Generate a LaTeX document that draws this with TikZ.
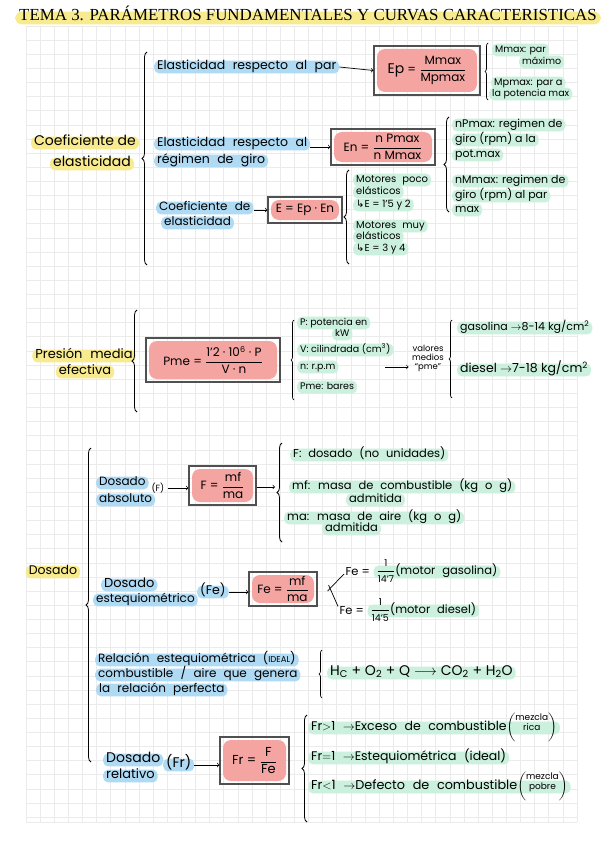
\documentclass[tikz,border=0pt]{standalone}
\usepackage{amsmath}
\usepackage{fontspec}
\setmainfont{Poppins}
\newfontfamily\titlefont{Liberation Serif}
\newfontfamily\symfont{DejaVu Sans}
\usetikzlibrary{decorations.pathreplacing,positioning}

\definecolor{yellowhl}{HTML}{F8EA8E}
\definecolor{bluehl}{HTML}{AFDAF4}
\definecolor{greenhl}{HTML}{CBF0DD}
\definecolor{redhl}{HTML}{F4A5A1}
\definecolor{gridgray}{HTML}{EBEBEB}
\definecolor{boxgray}{HTML}{505050}

\newcommand\fs[1]{\fontsize{#1}{#1}\selectfont}
\newcommand\widesp{\spaceskip=0.6em plus 0.1em\relax}

\tikzset{
  hl/.style={rounded corners=5pt, inner xsep=3pt, inner ysep=1.5pt, text height=1.35ex, text depth=0.45ex},
  hlb/.style={hl, fill=bluehl},
  hlg/.style={hl, fill=greenhl},
  hly/.style={hl, fill=yellowhl},
  formbox/.style={draw=boxgray, line width=1.1pt, inner sep=2pt, font=\fs{12},
    path picture={\fill[redhl, rounded corners=8pt]
      ([shift={(3pt,-3pt)}]path picture bounding box.north west) rectangle
      ([shift={(-3pt,3pt)}]path picture bounding box.south east);}},
  lbrace/.style={decorate, decoration={brace, amplitude=5pt}, line width=0.8pt},
  sbrace/.style={decorate, decoration={brace, amplitude=3pt}, line width=0.7pt},
  arr/.style={->, line width=0.7pt},
  gridline/.style={gridgray, line width=0.8pt}
}

\begin{document}
\begin{tikzpicture}[x=1pt,y=-1pt]
  \useasboundingbox (0,0) rectangle (609,848);
  \fill[white] (0,0) rectangle (609,848);

  % 方格纸
  \foreach \i in {0,...,39} \draw[gridline] (26+\i*14.13,26) -- (26+\i*14.13,822);
  \foreach \j in {0,...,56} \draw[gridline] (26,26+\j*14.13) -- (577,26+\j*14.13);
  \draw[gridline] (26,822) -- (577,822);

  \node[hly, rounded corners=7pt, inner xsep=4pt] (title) at (308,18)
    {\titlefont\fs{16.9}TEMA 3. PARÁMETROS FUNDAMENTALES Y CURVAS CARACTERISTICAS};

  % Coeficiente de elasticidad
  \node[hly, font=\fs{14}] (coef-a) at (85,143) {Coeficiente de};
  \node[hly, font=\fs{14}] (coef-b) at (92,164) {elasticidad};
  \draw[lbrace] (147,265) -- (147,52);

  \node[hlb, font=\fs{12.5}\widesp, anchor=west] (ep-lbl) at (154,67) {Elasticidad respecto al par};
  \node[formbox, minimum width=106pt, minimum height=49pt] (ep-box) at (427,70.5)
    {{\fs{14}Ep} = $\dfrac{\text{Mmax}}{\text{Mpmax}}$};
  \draw[arr] (ep-lbl.east) -- (ep-box.west);
  \draw[sbrace] (488,100) -- (488,43);
  \node[hlg, font=\fs{9.5}, anchor=west] (mmax-a) at (492,50) {Mmax: par};
  \node[hlg, font=\fs{9.5}, anchor=west] (mmax-b) at (519,62) {máximo};
  \node[hlg, font=\fs{9.8}, anchor=west] (mpmax-a) at (491,83) {Mpmax: par a};
  \node[hlg, font=\fs{9.5}, anchor=west] (mpmax-b) at (489,94) {la potencia max};

  \node[hlb, font=\fs{12.5}\widesp, anchor=west] (en-lbl-a) at (154,144) {Elasticidad respecto al};
  \node[hlb, font=\fs{12.5}\widesp, anchor=west] (en-lbl-b) at (154,161) {régimen de giro};
  \node[formbox, minimum width=104pt, minimum height=36pt] (en-box) at (383,147)
    {En = $\dfrac{\text{n Pmax}}{\text{n Mmax}}$};
  \draw[arr] (en-lbl-a.east |- en-box.west) -- (en-box.west);
  \draw[lbrace] (449,212) -- (449,117);
  \node[hlg, font=\fs{11}, anchor=west] (npmax-a) at (452,125) {nPmax: regimen de};
  \node[hlg, font=\fs{11}, anchor=west] (npmax-b) at (452,140) {giro (rpm) a la};
  \node[hlg, font=\fs{11}, anchor=west] (npmax-c) at (452,155) {pot.max};
  \node[hlg, font=\fs{11}, anchor=west] (nmmax-a) at (452,181) {nMmax: regimen de};
  \node[hlg, font=\fs{11}, anchor=west] (nmmax-b) at (452,196) {giro (rpm) al par};
  \node[hlg, font=\fs{11}, anchor=west] (nmmax-c) at (452,210) {max};

  \node[hlb, font=\fs{12}\widesp, anchor=west] (e-lbl-a) at (156,208) {Coeficiente de};
  \node[hlb, font=\fs{12}, anchor=west] (e-lbl-b) at (161,223) {elasticidad};
  \node[formbox, minimum width=74pt, minimum height=26pt] (e-box) at (305,210) {E = Ep · En};
  \draw[arr] (e-lbl-a.east |- e-box.west) -- (e-box.west);
  \draw[lbrace] (349,264) -- (349,170);
  \node[hlg, font=\fs{10}\widesp, anchor=west] (mot-a) at (353,180) {Motores poco};
  \node[hlg, font=\fs{10}, anchor=west] (mot-b) at (353,192) {elásticos};
  \node[hlg, font=\fs{10}, anchor=west] (mot-c) at (353,205) {{\symfont ↳}E = 1'5 y 2};
  \node[hlg, font=\fs{10}\widesp, anchor=west] (mot-d) at (353,226) {Motores muy};
  \node[hlg, font=\fs{10}, anchor=west] (mot-e) at (353,237) {elásticos};
  \node[hlg, font=\fs{10}, anchor=west] (mot-f) at (353,249) {{\symfont ↳}E = 3 y 4};

  % Presión media efectiva
  \node[hly, font=\fs{13}\widesp] (pme-a) at (84,356) {Presión media};
  \node[hly, font=\fs{13}] (pme-b) at (85,372) {efectiva};
  \draw[lbrace] (137,412) -- (137,310);
  \node[formbox, minimum width=134pt, minimum height=44pt] (pme-box) at (213,360)
    {Pme = $\dfrac{\text{1'2 · 10\textsuperscript{6} · P}}{\text{V · n}}$};
  \draw[sbrace] (294,400) -- (294,320);
  \node[hlg, font=\fs{9.5}, anchor=west] (var-p-a) at (297,323) {P: potencia en};
  \node[hlg, font=\fs{9.5}, anchor=west] (var-p-b) at (332,334) {kW};
  \node[hlg, font=\fs{9.5}, anchor=west] (var-v) at (297,350) {V: cilindrada (cm\textsuperscript{3})};
  \node[hlg, font=\fs{9.5}, anchor=west] (var-n) at (297,367) {n: r.p.m};
  \node[hlg, font=\fs{9.5}, anchor=west] (var-pme) at (297,387) {Pme: bares};
  \coordinate (pme-arr) at (385,367);
  \node[font=\fontsize{8.5}{9}\selectfont, align=center] (vm) at (428,358) {valores\\medios\\“pme”};
  \draw[arr] (pme-arr) -- (vm.west |- pme-arr);
  \draw[sbrace] (452,398) -- (452,320);
  \node[hlg, font=\fs{11}, anchor=west] (gas) at (457,328) {gasolina $\rightarrow$8-14 kg/cm\textsuperscript{2}};
  \node[hlg, font=\fs{12.5}, anchor=west] (die) at (457,370) {diesel $\rightarrow$7-18 kg/cm\textsuperscript{2}};

  % Dosado
  \node[hly, font=\fs{12.5}] (dos) at (53,572) {Dosado};
  \draw[lbrace] (91,762) -- (91,448);

  \node[hlb, font=\fs{12}, anchor=west] (fa-a) at (96,483) {Dosado};
  \node[hlb, font=\fs{12}, anchor=west] (fa-b) at (96,500) {absoluto};
  \node[font=\fs{9}, anchor=west] (fa-c) at (148,488) {(F)};
  \node[formbox, minimum width=67pt, minimum height=39pt] (f-box) at (222.5,485.5)
    {F = $\dfrac{\text{mf}}{\text{ma}}$};
  \draw[arr] (fa-c.east) -- (fa-c.east -| f-box.west);
  \coordinate (f-arr) at (275,487);
  \draw[arr] (f-box.east |- f-arr) -- (f-arr);
  \draw[lbrace] (282,542) -- (282,443);
  \node[hlg, font=\fs{11.5}\widesp, anchor=west] (fv-a) at (290,455) {F: dosado (no unidades)};
  \node[hlg, font=\fs{11.5}\widesp, anchor=west] (fv-b) at (289,487) {mf: masa de combustible (kg o g)};
  \node[hlg, font=\fs{11.5}, anchor=west] (fv-c) at (346,500) {admitida};
  \node[hlg, font=\fs{11.5}\widesp, anchor=west] (fv-d) at (284,518) {ma: masa de aire (kg o g)};
  \node[hlg, font=\fs{11.5}, anchor=west] (fv-e) at (322,529) {admitida};

  \node[hlb, font=\fs{13}, anchor=west] (fe-a) at (101,585) {Dosado};
  \node[hlb, font=\fs{12}, anchor=west] (fe-b) at (93,600) {estequiométrico};
  \node[hlb, font=\fs{12.5}, anchor=west] (fe-c) at (197,592) {(Fe)};
  \node[formbox, minimum width=68pt, minimum height=34pt] (fe-box) at (283,589)
    {Fe = $\dfrac{\text{mf}}{\text{ma}}$};
  \draw[arr] (fe-c.east) -- (fe-c.east -| fe-box.west);
  \node[font=\fs{11.5}, anchor=west] (feg-lhs) at (342,572) {Fe =};
  \node[hlg, font=\fs{11.5}\widesp, right=0pt of feg-lhs] (feg-rhs)
    {$\dfrac{\text{\fs{9.5}1}}{\text{\fs{9.5}14'7}}$(motor gasolina)};
  \node[font=\fs{11.5}, anchor=west] (fed-lhs) at (336,611) {Fe =};
  \node[hlg, font=\fs{11.5}\widesp, right=0pt of fed-lhs] (fed-rhs)
    {$\dfrac{\text{\fs{9.5}1}}{\text{\fs{9.5}14'5}}$(motor diesel)};
  \draw[line width=0.7pt] ([shift={(10pt,-2pt)}]fe-box.east) -- ([shift={(2pt,-2pt)}]feg-lhs.west);
  \draw[line width=0.7pt] ([shift={(11pt,4pt)}]fe-box.east) -- ([shift={(2pt,-3pt)}]fed-lhs.north west);

  \node[hlb, font=\fs{12}\widesp, anchor=west] (rel-a) at (95,660) {Relación estequiométrica ({\fs{8.5}IDEAL})};
  \node[hlb, font=\fs{12}\widesp, anchor=west] (rel-b) at (95,675) {combustible / aire que genera};
  \node[hlb, font=\fs{12}\widesp, anchor=west] (rel-c) at (96,690) {la relación perfecta};
  \draw[sbrace] (322,698) -- (322,650);
  \node[hlg, font=\fs{14}, anchor=west] (reac) at (327,673)
    {H\textsubscript{C} + O\textsubscript{2} + Q $\longrightarrow$ CO\textsubscript{2} + H\textsubscript{2}O};

  \node[hlb, font=\fs{14}, anchor=west] (fr-a) at (103,760) {Dosado};
  \node[hlb, font=\fs{13}, anchor=west] (fr-b) at (103,776) {relativo};
  \node[hlb, font=\fs{14}, anchor=west] (fr-c) at (163,765) {(Fr)};
  \node[formbox, font=\fs{13}, minimum width=69pt, minimum height=47pt] (fr-box) at (254.5,760.5)
    {Fr = $\dfrac{\text{F}}{\text{Fe}}$};
  \draw[arr] (fr-c.east) -- (fr-c.east -| fr-box.west);
  \draw[lbrace] (307,822) -- (307,715);
  \node[hlg, font=\fs{12.5}\widesp, anchor=west] (fr1) at (308,728)
    {Fr$>$1 $\rightarrow$Exceso de combustible$\left(\text{\fs{9}\shortstack{mezcla\\rica}}\right)$};
  \node[hlg, font=\fs{12.5}\widesp, anchor=west] (fr2) at (308,758)
    {Fr$=$1 $\rightarrow$Estequiométrica (ideal)};
  \node[hlg, font=\fs{12.8}\widesp, anchor=west] (fr3) at (308,787)
    {Fr$<$1 $\rightarrow$Defecto de combustible$\left(\text{\fs{9}\shortstack{mezcla\\pobre}}\right)$};
\end{tikzpicture}
\end{document}
